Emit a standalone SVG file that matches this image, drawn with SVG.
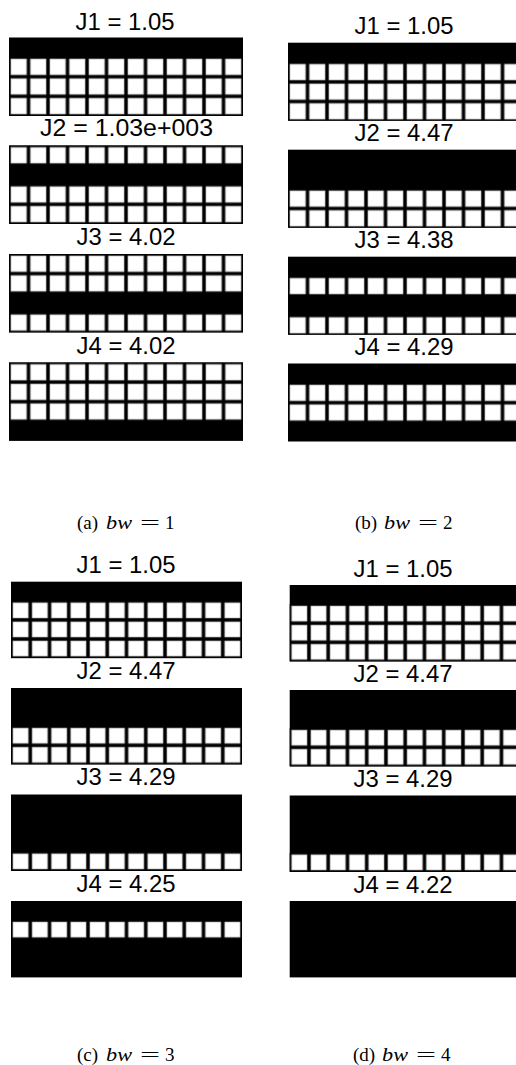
<svg xmlns="http://www.w3.org/2000/svg" width="516" height="1065" viewBox="0 0 516 1065">
<style>
.bk{fill:#000}
.t{font-family:"Liberation Sans",Arial,Helvetica,sans-serif;font-size:23.5px;fill:#000;text-anchor:middle}
.cap{font-family:"Liberation Serif","Times New Roman",serif;font-size:19px;fill:#000}
.it{font-style:italic}
.sqT{fill:url(#pT)}
.sqB{fill:url(#pB)}
</style>
<defs>
<pattern id="pT" patternUnits="userSpaceOnUse" x="0" y="0" width="19.5" height="19.6">
<rect width="19.5" height="19.6" fill="#000"/>
<rect x="1.9" y="1.9" width="15.7" height="15.8" fill="#fff" stroke="#a0a0a0" stroke-width="0.6"/>
</pattern>
<pattern id="pB" patternUnits="userSpaceOnUse" x="0" y="0" width="19.25" height="19.1">
<rect width="19.25" height="19.1" fill="#000"/>
<rect x="1.9" y="1.9" width="15.45" height="15.3" fill="#fff" stroke="#a0a0a0" stroke-width="0.6"/>
</pattern>
</defs>
<rect width="516" height="1065" fill="#fff"/>

<!-- panel (a) -->
<g id="panel-a">
<g id="a-J1"><text class="t" x="125" y="29.5" textLength="99" lengthAdjust="spacingAndGlyphs">J1 = 1.05</text>
<g transform="translate(9,37.5)"><rect class="bk" width="234" height="78.4"/><rect class="sqT" y="19.6" width="234" height="58.8"/></g></g>
<g id="a-J2"><text class="t" x="126.5" y="136" textLength="173" lengthAdjust="spacingAndGlyphs">J2 = 1.03e+003</text>
<g transform="translate(9,145.5)"><rect class="bk" width="234" height="78.4"/><rect class="sqT" y="0" width="234" height="19.6"/><rect class="sqT" y="39.2" width="234" height="39.2"/></g></g>
<g id="a-J3"><text class="t" x="126" y="245" textLength="99" lengthAdjust="spacingAndGlyphs">J3 = 4.02</text>
<g transform="translate(9,254)"><rect class="bk" width="234" height="78.4"/><rect class="sqT" y="0" width="234" height="39.2"/><rect class="sqT" y="58.8" width="234" height="19.6"/></g></g>
<g id="a-J4"><text class="t" x="126" y="353.5" textLength="99" lengthAdjust="spacingAndGlyphs">J4 = 4.02</text>
<g transform="translate(9,362.5)"><rect class="bk" width="234" height="78.4"/><rect class="sqT" y="0" width="234" height="58.8"/></g></g>
<text class="cap" y="529"><tspan x="77">(a)</tspan><tspan class="it" x="106" textLength="26" lengthAdjust="spacingAndGlyphs">bw</tspan><tspan x="140" textLength="20" lengthAdjust="spacingAndGlyphs">=</tspan><tspan x="165">1</tspan></text>
</g>

<!-- panel (b) -->
<g id="panel-b">
<g id="b-J1"><text class="t" x="404" y="34" textLength="99" lengthAdjust="spacingAndGlyphs">J1 = 1.05</text>
<g transform="translate(288,42.7)"><rect class="bk" width="234" height="78"/><rect class="sqT" y="19.6" width="234" height="58.4"/></g></g>
<g id="b-J2"><text class="t" x="404" y="141" textLength="99" lengthAdjust="spacingAndGlyphs">J2 = 4.47</text>
<g transform="translate(288,149.7)"><rect class="bk" width="234" height="78"/><rect class="sqT" y="39.2" width="234" height="38.8"/></g></g>
<g id="b-J3"><text class="t" x="404" y="247.5" textLength="99" lengthAdjust="spacingAndGlyphs">J3 = 4.38</text>
<g transform="translate(288,256.7)"><rect class="bk" width="234" height="78"/><rect class="sqT" y="19.6" width="234" height="19.6"/><rect class="sqT" y="58.8" width="234" height="19.2"/></g></g>
<g id="b-J4"><text class="t" x="404" y="355" textLength="99" lengthAdjust="spacingAndGlyphs">J4 = 4.29</text>
<g transform="translate(288,363.5)"><rect class="bk" width="234" height="78"/><rect class="sqT" y="19.6" width="234" height="39.2"/></g></g>
<text class="cap" y="529"><tspan x="355">(b)</tspan><tspan class="it" x="384" textLength="26" lengthAdjust="spacingAndGlyphs">bw</tspan><tspan x="418" textLength="20" lengthAdjust="spacingAndGlyphs">=</tspan><tspan x="443">2</tspan></text>
</g>

<!-- panel (c) -->
<g id="panel-c">
<g id="c-J1"><text class="t" x="126" y="573" textLength="99" lengthAdjust="spacingAndGlyphs">J1 = 1.05</text>
<g transform="translate(11,581.7)"><rect class="bk" width="231" height="76.4"/><rect class="sqB" y="19.1" width="231" height="57.3"/></g></g>
<g id="c-J2"><text class="t" x="126" y="678.5" textLength="99" lengthAdjust="spacingAndGlyphs">J2 = 4.47</text>
<g transform="translate(11,688)"><rect class="bk" width="231" height="76.4"/><rect class="sqB" y="38.2" width="231" height="38.2"/></g></g>
<g id="c-J3"><text class="t" x="126" y="785" textLength="99" lengthAdjust="spacingAndGlyphs">J3 = 4.29</text>
<g transform="translate(11,794.5)"><rect class="bk" width="231" height="76.4"/><rect class="sqB" y="57.3" width="231" height="19.1"/></g></g>
<g id="c-J4"><text class="t" x="126" y="892" textLength="99" lengthAdjust="spacingAndGlyphs">J4 = 4.25</text>
<g transform="translate(11,901)"><rect class="bk" width="231" height="76.4"/><rect class="sqB" y="19.1" width="231" height="19.1"/></g></g>
<text class="cap" y="1061"><tspan x="77">(c)</tspan><tspan class="it" x="106" textLength="26" lengthAdjust="spacingAndGlyphs">bw</tspan><tspan x="140" textLength="20" lengthAdjust="spacingAndGlyphs">=</tspan><tspan x="165">3</tspan></text>
</g>

<!-- panel (d) -->
<g id="panel-d">
<g id="d-J1"><text class="t" x="403" y="577" textLength="99" lengthAdjust="spacingAndGlyphs">J1 = 1.05</text>
<g transform="translate(289.7,585)"><rect class="bk" width="231" height="76.4"/><rect class="sqB" y="19.1" width="231" height="57.3"/></g></g>
<g id="d-J2"><text class="t" x="403" y="681.5" textLength="99" lengthAdjust="spacingAndGlyphs">J2 = 4.47</text>
<g transform="translate(289.7,690)"><rect class="bk" width="231" height="76.4"/><rect class="sqB" y="38.2" width="231" height="38.2"/></g></g>
<g id="d-J3"><text class="t" x="403" y="787" textLength="99" lengthAdjust="spacingAndGlyphs">J3 = 4.29</text>
<g transform="translate(289.7,795.5)"><rect class="bk" width="231" height="76.4"/><rect class="sqB" y="57.3" width="231" height="19.1"/></g></g>
<g id="d-J4"><text class="t" x="403" y="892.5" textLength="99" lengthAdjust="spacingAndGlyphs">J4 = 4.22</text>
<g transform="translate(289.7,901)"><rect class="bk" width="231" height="76.4"/></g></g>
<text class="cap" y="1061"><tspan x="353">(d)</tspan><tspan class="it" x="382" textLength="26" lengthAdjust="spacingAndGlyphs">bw</tspan><tspan x="416" textLength="20" lengthAdjust="spacingAndGlyphs">=</tspan><tspan x="441">4</tspan></text>
</g>
</svg>
